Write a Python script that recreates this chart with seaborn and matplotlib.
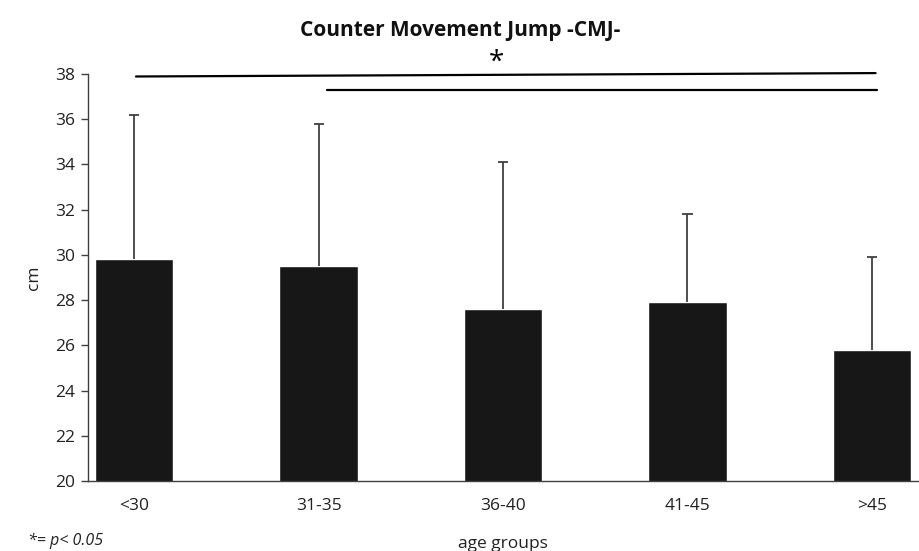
import matplotlib
matplotlib.use("Agg")
import matplotlib.pyplot as plt
import seaborn as sns
import pandas as pd
import numpy as np

groups = ["<30", "31-35", "36-40", "41-45", ">45"]
means = [29.8, 29.5, 27.6, 27.9, 25.8]
sd = [6.4, 6.3, 6.5, 3.9, 4.1]
yticks = [20, 22, 24, 26, 28, 30, 32, 34, 36, 38]

sns.set_style("white")
plt.rcParams['font.family'] = ['Open Sans', 'DejaVu Sans']

# categories with spacer slots between groups (as in original chart)
order = []
for i, g in enumerate(groups):
    order.append(g)
    if i < len(groups) - 1:
        order.append(" " * (i + 1))
df = pd.DataFrame({"group": groups, "cm": means})

fig = plt.figure(figsize=(9.2, 5.51), dpi=100)
ax = fig.add_axes([0.0957, 0.127, 0.9021, 0.7387])
sns.barplot(data=df, x="group", y="cm", order=order, color="#171717",
            saturation=1, width=0.85, errorbar=None, ax=ax)
pos = np.array([order.index(g) for g in groups], dtype=float)
upper = np.array(means) + np.array(sd)
ax.vlines(pos, means, upper, colors="#404040", lw=1.3, zorder=3)
ax.hlines(upper, pos - 0.055, pos + 0.055, colors="#404040", lw=1.3, zorder=3)

ax.set_xlim(-0.5, len(order) - 0.5)
ax.set_ylim(20, 38)
ax.set_yticks(yticks)
ax.set_yticklabels([str(v) for v in yticks], fontsize=12.5, color="#222222")
ax.set_xticks(pos)
ax.set_xticklabels(groups, fontsize=12.5, color="#222222")
ax.tick_params(axis="x", length=0, pad=12)
ax.set_xticks(np.arange(-0.5, len(order), 1.0), minor=True)
ax.tick_params(axis="x", which="minor", length=5, width=1, color="#404040", direction="out")
ax.tick_params(axis="y", length=5, width=1, color="#404040", direction="out", left=True, pad=4)
for s in ["top", "right"]:
    ax.spines[s].set_visible(False)
for s in ["left", "bottom"]:
    ax.spines[s].set_color("#404040")
    ax.spines[s].set_linewidth(1)

ax.set_xlabel("age groups", fontsize=12.5, color="#222222", labelpad=16)
ax.set_ylabel("cm", fontsize=12.5, color="#222222", labelpad=10)
fig.text(0.5, 0.945, "Counter Movement Jump -CMJ-", fontsize=15, fontweight="bold",
         color="#111111", ha="center", va="center")

# significance lines
ax.plot([0.02, 8.04], [37.89, 38.04], color="black", lw=1.6, clip_on=False)
ax.plot([2.09, 8.06], [37.31, 37.31], color="black", lw=1.6, clip_on=False)
ax.text(3.93, 38.5, "*", fontsize=20, ha="center", va="center", color="black")

fig.text(0.03, 0.01, "*= p< 0.05", fontsize=11.5, style="italic", color="#222222")

fig.savefig("out.png", dpi=100)
